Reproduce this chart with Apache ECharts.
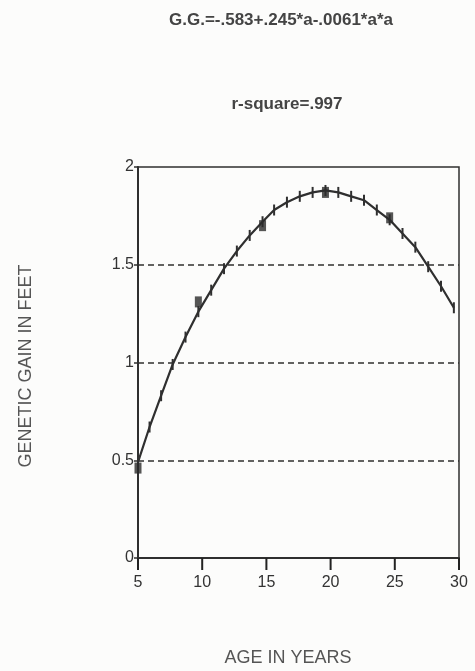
<!DOCTYPE html>
<html>
<head>
<meta charset="utf-8">
<script src="https://cdn.jsdelivr.net/npm/echarts@6/dist/echarts.min.js"></script>
<style>
  html, body { margin: 0; padding: 0; background: #fcfcfb; }
  #chart { width: 475px; height: 671px; }
</style>
</head>
<body>
<div id="chart"></div>
<script>
// fitted curve (tick marks on the line)
const fitAges = [5, 5.9, 6.8, 7.7, 8.7, 9.7, 10.7, 11.7, 12.7, 13.7, 14.7, 15.6, 16.6,
  17.6, 18.6, 19.6, 20.6, 21.6, 22.6, 23.6, 24.6, 25.6, 26.6, 27.6, 28.6, 29.6];
const fitGain = [0.49, 0.67, 0.83, 0.99, 1.13, 1.26, 1.37, 1.48, 1.57, 1.65, 1.72, 1.78, 1.82,
  1.85, 1.87, 1.88, 1.87, 1.85, 1.83, 1.78, 1.73, 1.66, 1.59, 1.49, 1.39, 1.28];

// observed means (filled squares)
const obsAges = [5, 9.7, 14.7, 19.6, 24.6];
const obsGain = [0.46, 1.31, 1.70, 1.87, 1.74];

const xTicks = [5, 10, 15, 20, 25, 30];
const yTicks = [0, 0.5, 1, 1.5, 2];

const INK = '#2f2f2f';
const FONT = '"Liberation Sans", Arial, sans-serif';
const X_TICK_LEN = 12;

const chart = echarts.init(document.getElementById('chart'));

chart.setOption({
  backgroundColor: '#fcfcfb',
  animation: false,
  title: [
    {
      text: 'G.G.=-.583+.245*a-.0061*a*a',
      left: 276, top: 7, textAlign: 'center',
      textStyle: { fontFamily: FONT, fontSize: 17, fontWeight: 'bold', color: '#444' }
    },
    {
      text: 'r-square=.997',
      left: 282, top: 91, textAlign: 'center',
      textStyle: { fontFamily: FONT, fontSize: 17, fontWeight: 'bold', color: '#444' }
    }
  ],
  graphic: [
    {
      type: 'text', x: 26, y: 366, rotation: Math.PI / 2,
      style: {
        text: 'GENETIC GAIN IN FEET', fill: '#555', font: '18px ' + FONT,
        textAlign: 'center', textVerticalAlign: 'middle'
      }
    },
    {
      type: 'text', x: 288, y: 658,
      style: {
        text: 'AGE IN YEARS', fill: '#555', font: '18px ' + FONT,
        textAlign: 'center', textVerticalAlign: 'middle'
      }
    }
  ],
  grid: {
    left: 138, right: 16, top: 167, bottom: 113,
    show: true, borderColor: INK, borderWidth: 1.5, backgroundColor: 'transparent'
  },
  xAxis: {
    type: 'value', min: 5, max: 30, interval: 5,
    axisLine: { show: true, onZero: false, lineStyle: { color: INK, width: 2 } },
    axisTick: { show: false },
    axisLabel: { color: '#333', fontFamily: FONT, fontSize: 16, margin: 17 },
    splitLine: { show: false }
  },
  yAxis: {
    type: 'value', min: 0, max: 2, interval: 0.5,
    axisLine: { show: true, lineStyle: { color: INK, width: 2 } },
    axisTick: { show: true, length: 4, lineStyle: { color: INK, width: 1.5 } },
    axisLabel: { color: '#333', fontFamily: FONT, fontSize: 16, margin: 4 },
    splitLine: { show: false }
  },
  series: [
    {
      type: 'line',
      name: 'dashed levels',
      data: [],
      markLine: {
        silent: true, symbol: 'none', label: { show: false },
        lineStyle: { color: INK, type: [6, 4], width: 1.6 },
        data: yTicks.filter(v => v > 0 && v < 2).map(v => ({ yAxis: v }))
      }
    },
    {
      // x tick marks hanging below the frame
      type: 'custom',
      name: 'x ticks',
      clip: false,
      silent: true,
      data: xTicks.map(v => [v, 0]),
      renderItem: (params, api) => {
        const p = api.coord([api.value(0), 0]);
        return {
          type: 'line',
          shape: { x1: p[0], y1: p[1], x2: p[0], y2: p[1] + X_TICK_LEN },
          style: { stroke: '#222', lineWidth: 2 }
        };
      }
    },
    {
      type: 'line',
      name: 'fitted',
      data: fitAges.map((a, i) => [a, fitGain[i]]),
      showSymbol: true,
      symbol: 'rect',
      symbolSize: [2, 11],
      itemStyle: { color: INK },
      lineStyle: { color: INK, width: 2.2 },
      z: 3
    },
    {
      type: 'scatter',
      name: 'observed',
      data: obsAges.map((a, i) => [a, obsGain[i]]),
      symbol: 'rect',
      symbolSize: [7, 11],
      itemStyle: { color: '#2a2a2a' },
      z: 4
    }
  ]
});
</script>
</body>
</html>
